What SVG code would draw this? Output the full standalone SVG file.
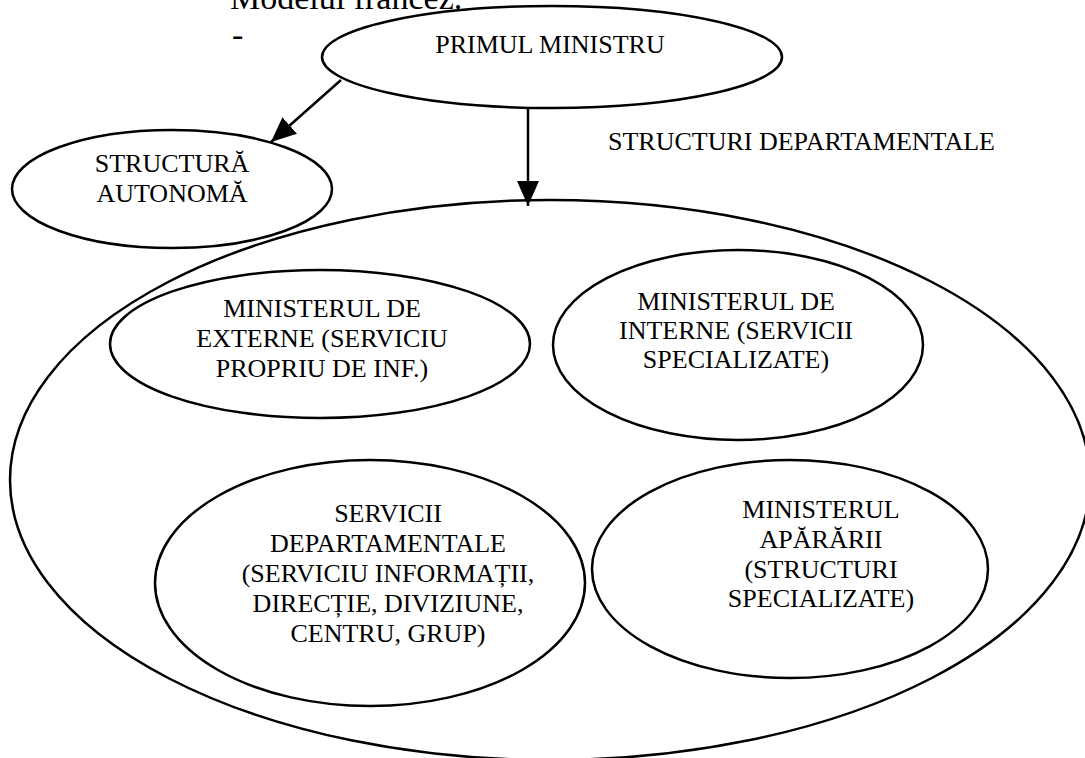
<svg xmlns="http://www.w3.org/2000/svg" width="1085" height="758" viewBox="0 0 1085 758">
  <style>
    .shape { fill: none; stroke: #000; stroke-width: 2.5; }
    .lbl { font-family: "Liberation Serif", "Times New Roman", serif; font-size: 26px; fill: #000; text-anchor: middle; }
    .head { font-family: "Liberation Serif", "Times New Roman", serif; font-size: 34px; fill: #000; }
    .edge { stroke: #000; stroke-width: 2.5; fill: none; }
  </style>
  <defs>
    <marker id="arrow" markerUnits="userSpaceOnUse" markerWidth="26" markerHeight="22" refX="25" refY="11" orient="auto">
      <path d="M0,0 L25,11 L0,22 z" fill="#000"/>
    </marker>
  </defs>
  <rect width="1085" height="758" fill="#fff"/>

  <!-- heading -->
  <text class="head" x="230" y="9">Modelul francez.</text>
  <text class="head" x="232" y="46">-</text>

  <!-- departmental structures container -->
  <g id="structuri-departamentale">
    <ellipse class="shape" cx="550" cy="480" rx="540" ry="280"/>
    <text class="lbl" x="608" y="150" style="text-anchor:start">STRUCTURI DEPARTAMENTALE</text>
  </g>

  <g id="primul-ministru">
    <ellipse class="shape" cx="552" cy="57" rx="230" ry="51"/>
    <text class="lbl" x="550" y="53">PRIMUL MINISTRU</text>
  </g>

  <g id="structura-autonoma">
    <ellipse class="shape" cx="172" cy="189" rx="160" ry="59"/>
    <text class="lbl" x="172" y="172">STRUCTURĂ</text>
    <text class="lbl" x="172" y="202">AUTONOMĂ</text>
  </g>

  <g id="ministerul-externe">
    <ellipse class="shape" cx="320" cy="344" rx="210" ry="74"/>
    <text class="lbl" x="322" y="317">MINISTERUL DE</text>
    <text class="lbl" x="322" y="347">EXTERNE (SERVICIU</text>
    <text class="lbl" x="322" y="377">PROPRIU DE INF.)</text>
  </g>

  <g id="ministerul-interne">
    <ellipse class="shape" cx="738" cy="345" rx="185" ry="95"/>
    <text class="lbl" x="736" y="310">MINISTERUL DE</text>
    <text class="lbl" x="736" y="339">INTERNE (SERVICII</text>
    <text class="lbl" x="736" y="368">SPECIALIZATE)</text>
  </g>

  <g id="servicii-departamentale">
    <ellipse class="shape" cx="370" cy="583" rx="215" ry="123"/>
    <text class="lbl" x="388" y="522">SERVICII</text>
    <text class="lbl" x="388" y="552">DEPARTAMENTALE</text>
    <text class="lbl" x="388" y="582">(SERVICIU INFORMAȚII,</text>
    <text class="lbl" x="388" y="612">DIRECȚIE, DIVIZIUNE,</text>
    <text class="lbl" x="388" y="642">CENTRU, GRUP)</text>
  </g>

  <g id="ministerul-apararii">
    <ellipse class="shape" cx="790" cy="569" rx="198" ry="109"/>
    <text class="lbl" x="821" y="518">MINISTERUL</text>
    <text class="lbl" x="821" y="548">APĂRĂRII</text>
    <text class="lbl" x="821" y="578">(STRUCTURI</text>
    <text class="lbl" x="821" y="607">SPECIALIZATE)</text>
  </g>

  <!-- connectors -->
  <g id="connectors">
    <line class="edge" x1="341" y1="80" x2="271" y2="142" marker-end="url(#arrow)"/>
    <line class="edge" x1="528" y1="108" x2="528" y2="206" marker-end="url(#arrow)"/>
  </g>
</svg>
